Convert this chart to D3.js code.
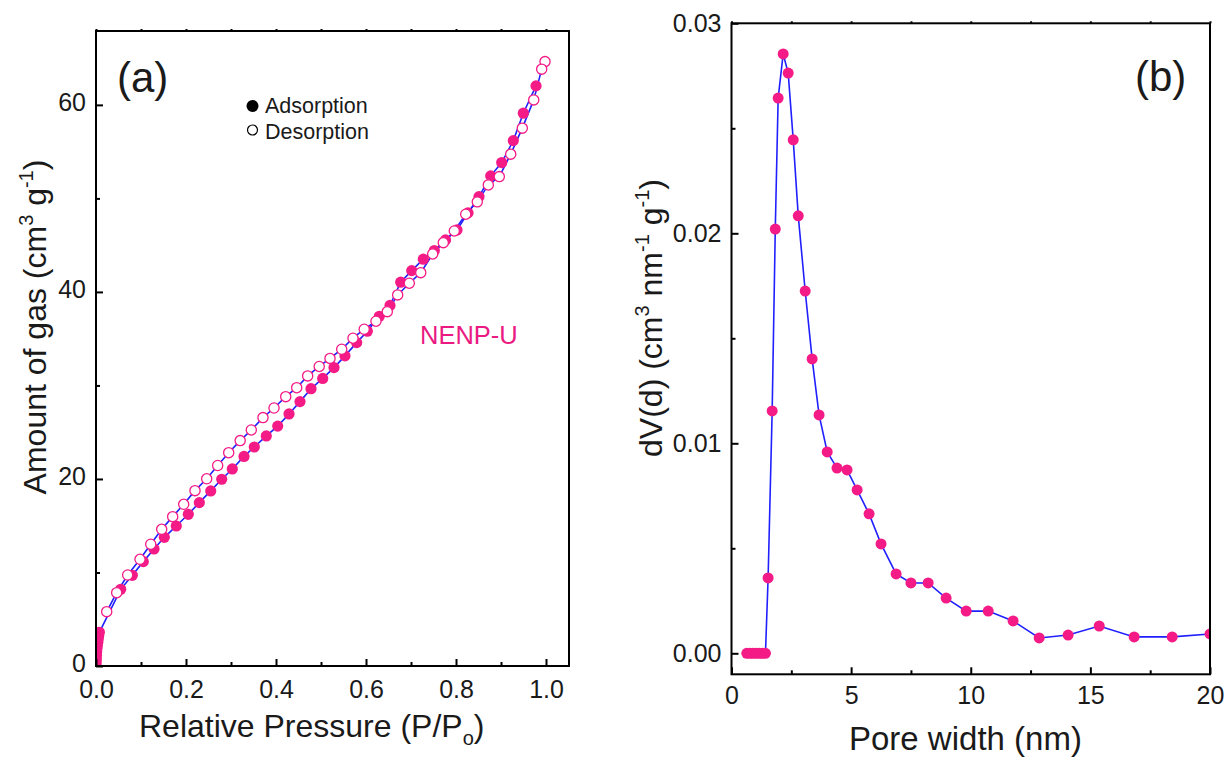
<!DOCTYPE html>
<html>
<head>
<meta charset="utf-8">
<script src="https://cdn.jsdelivr.net/npm/d3@7"></script>
<style>
  html, body { margin: 0; padding: 0; background: #fff; }
  svg { display: block; font-family: "Liberation Sans", Arial, Helvetica, sans-serif; }
</style>
</head>
<body>
<svg id="chart" width="1227" height="760"></svg>
<script>
// ---- (a) nitrogen sorption isotherm of NENP-U ----
const adsP = [0.0002, 0.0004, 0.0007, 0.001, 0.0015, 0.002, 0.003, 0.004, 0.005, 0.006, 0.0075,
  0.0549, 0.0807, 0.1051, 0.1289, 0.1518, 0.1784, 0.2051, 0.2296, 0.2549, 0.2793,
  0.3029, 0.3289, 0.3518, 0.3784, 0.4038, 0.4289, 0.4533, 0.4778, 0.5038, 0.5289,
  0.5533, 0.5793, 0.6029, 0.6296, 0.6533, 0.6771, 0.7016, 0.7273, 0.7518, 0.7767,
  0.8022, 0.8267, 0.8511, 0.8771, 0.9016, 0.9273, 0.9496, 0.9778];
const adsV = [0.1, 0.45, 0.8, 1.15, 1.5, 1.85, 2.2, 2.55, 2.9, 3.25, 3.6,
  8.20, 9.70, 11.16, 12.51, 13.76, 14.97, 16.22, 17.47, 18.72, 19.97,
  21.07, 22.41, 23.42, 24.60, 25.65, 26.95, 28.27, 29.65, 30.75, 31.91,
  33.16, 34.58, 35.80, 37.40, 38.56, 41.04, 42.28, 43.50, 44.42, 45.56,
  46.63, 48.45, 50.19, 52.41, 53.83, 56.18, 59.11, 62.03];
const desP = [0.9978, 0.9904, 0.9727, 0.9473, 0.9216, 0.8962, 0.8718, 0.8473, 0.8216, 0.7962,
  0.7718, 0.7482, 0.7216, 0.6962, 0.6704, 0.6473, 0.6222, 0.5960, 0.5711, 0.5460,
  0.5200, 0.4960, 0.4704, 0.4460, 0.4216, 0.3956, 0.3711, 0.3451, 0.3204, 0.2949,
  0.2704, 0.2460, 0.2200, 0.1949, 0.1704, 0.1460, 0.1216, 0.0978, 0.0704, 0.0460, 0.0238];
const desV = [64.63, 63.82, 60.53, 57.51, 54.73, 52.33, 51.44, 49.63, 48.31, 46.52,
  45.27, 44.06, 42.06, 40.93, 39.68, 37.89, 36.87, 36.01, 35.05, 33.87,
  32.89, 32.03, 31.02, 29.76, 28.80, 27.59, 26.56, 25.24, 24.10, 22.81,
  21.44, 20.02, 18.75, 17.29, 15.97, 14.62, 13.02, 11.41, 9.73, 7.84, 5.81];
const isoTicksX = [0, 0.2, 0.4, 0.6, 0.8, 1.0];
const isoMinorX = [0.1, 0.3, 0.5, 0.7, 0.9];
const isoTopX = [0, 0.1, 0.2, 0.3, 0.4, 0.5, 0.6, 0.7, 0.8, 0.9, 1.0];
const isoTicksY = [0, 20, 40, 60];
const isoMinorY = [10, 30, 50];

// ---- (b) pore size distribution ----
const poreWidth = [0.64, 0.77, 0.9, 1.03, 1.16, 1.29, 1.42, 1.53, 1.70, 1.83, 1.95, 2.16, 2.37, 2.58,
  2.79, 3.08, 3.37, 3.66, 4.0, 4.41, 4.83, 5.25, 5.75, 6.25, 6.88, 7.5, 8.22, 8.97,
  9.81, 10.73, 11.77, 12.86, 14.07, 15.37, 16.83, 18.42, 20.0];
const poreDV = [0, 0, 0, 0, 0, 0, 0, 0.00359, 0.01154, 0.0202, 0.02644, 0.02854, 0.02763, 0.02445,
  0.02083, 0.01725, 0.01402, 0.01135, 0.00959, 0.00882, 0.00873, 0.00778, 0.00664, 0.00521, 0.00378, 0.00335, 0.00335, 0.00263,
  0.00201, 0.00201, 0.00154, 0.00073, 0.00087, 0.0013, 0.00078, 0.00078, 0.00092];
const psdTicksX = [0, 5, 10, 15, 20];
const psdMinorX = [2.5, 7.5, 12.5, 17.5];
const psdTopX = [0, 2.5, 5, 7.5, 10, 12.5, 15, 17.5, 20];
const psdTicksY = [0, 0.01, 0.02, 0.03];
const psdMinorY = [0.005, 0.015, 0.025];

const PINK = "#f41b86";
const BLUE = "#2020ff";
const INK = "#1a1a1a";

const svg = d3.select("#chart");

// frame, inward ticks and labels for one panel
function drawFrame(g, x, y, o) {
  const [x0, x1] = x.range();
  const [y0, y1] = y.range(); // y0 bottom, y1 top

  const styleAxis = sel => {
    sel.select(".domain").remove();
    sel.selectAll(".tick line").attr("stroke", "#000").attr("stroke-width", 2);
    sel.selectAll(".tick text").attr("fill", INK).attr("font-size", 25)
      .attr("font-family", "Liberation Sans, Arial, sans-serif");
  };

  g.append("g").attr("transform", `translate(0,${y0})`)
    .call(d3.axisBottom(x).tickValues(o.xMajor).tickFormat(o.xFmt).tickSize(-7).tickPadding(o.xPad))
    .call(styleAxis);
  g.append("g").attr("transform", `translate(0,${y0})`)
    .call(d3.axisBottom(x).tickValues(o.xMinor).tickFormat("").tickSize(-4))
    .call(styleAxis);
  g.append("g").attr("transform", `translate(0,${y1})`)
    .call(d3.axisTop(x).tickValues(o.xTop).tickFormat("").tickSize(2))
    .call(styleAxis);
  g.append("g").attr("transform", `translate(${x0},0)`)
    .call(d3.axisLeft(y).tickValues(o.yMajor).tickFormat(o.yFmt).tickSize(-7).tickPadding(10))
    .call(styleAxis)
    .call(sel => sel.selectAll(".tick text").attr("dy", o.yDy));
  g.append("g").attr("transform", `translate(${x0},0)`)
    .call(d3.axisLeft(y).tickValues(o.yMinor).tickFormat("").tickSize(-4))
    .call(styleAxis);

  g.append("rect")
    .attr("x", x0).attr("y", y1)
    .attr("width", x1 - x0).attr("height", y0 - y1)
    .attr("fill", "none").attr("stroke", "#000").attr("stroke-width", 2);
}

function clipFor(id, x, y) {
  const [x0, x1] = x.range();
  const [y0, y1] = y.range();
  svg.append("defs").append("clipPath").attr("id", id)
    .append("rect").attr("x", x0).attr("y", y1).attr("width", x1 - x0).attr("height", y0 - y1);
}

// ================= panel (a) =================
const xa = d3.scaleLinear().domain([0, 1.0511]).range([96, 569]);
const ya = d3.scaleLinear().domain([0, 67.9]).range([666, 31]);
clipFor("clipA", xa, ya);

const ga = svg.append("g");
const adsData = adsP.map((p, i) => ({ p, v: adsV[i] }));
const desData = desP.map((p, i) => ({ p, v: desV[i] }));
const lineA = d3.line().x(d => xa(d.p)).y(d => ya(d.v));

const plotA = ga.append("g").attr("clip-path", "url(#clipA)");
plotA.append("path").datum(adsData).attr("d", lineA)
  .attr("fill", "none").attr("stroke", BLUE).attr("stroke-width", 1.6);
plotA.append("path").datum(desData).attr("d", lineA)
  .attr("fill", "none").attr("stroke", BLUE).attr("stroke-width", 1.6);
plotA.selectAll("circle.ads").data(adsData).join("circle").attr("class", "ads")
  .attr("cx", d => xa(d.p)).attr("cy", d => ya(d.v)).attr("r", 5.6)
  .attr("fill", PINK);
plotA.selectAll("circle.des").data(desData).join("circle").attr("class", "des")
  .attr("cx", d => xa(d.p)).attr("cy", d => ya(d.v)).attr("r", 5.1)
  .attr("fill", "#fff").attr("stroke", PINK).attr("stroke-width", 1.3);

drawFrame(ga, xa, ya, {
  xMajor: isoTicksX, xMinor: isoMinorX, xTop: isoTopX, xFmt: d3.format(".1f"), xPad: 14,
  yMajor: isoTicksY, yMinor: isoMinorY, yFmt: d3.format("d"), yDy: "0.22em"
});

ga.append("text").attr("x", 117).attr("y", 92).attr("font-size", 42).attr("fill", INK).text("(a)");

// legend
const legA = ga.append("g");
legA.append("circle").attr("cx", 252.5).attr("cy", 106).attr("r", 6).attr("fill", "#000");
legA.append("text").attr("x", 265).attr("y", 112.5).attr("font-size", 21.5).attr("fill", INK).text("Adsorption");
legA.append("circle").attr("cx", 252.5).attr("cy", 130).attr("r", 5).attr("fill", "#fff")
  .attr("stroke", "#000").attr("stroke-width", 1.2);
legA.append("text").attr("x", 265).attr("y", 139).attr("font-size", 21.5).attr("fill", INK).text("Desorption");

ga.append("text").attr("x", 420).attr("y", 344).attr("font-size", 25.5).attr("fill", "#ea1a82").text("NENP-U");

// axis titles (a)
const xtA = ga.append("text").attr("x", 139).attr("y", 737).attr("font-size", 32).attr("fill", INK);
xtA.append("tspan").text("Relative Pressure (P/P");
xtA.append("tspan").attr("font-size", 20).attr("dy", 8).text("o");
xtA.append("tspan").attr("dy", -8).text(")");

const ytA = ga.append("text").attr("transform", "translate(46,327) rotate(-90)")
  .attr("text-anchor", "middle").attr("font-size", 32).attr("fill", INK);
ytA.append("tspan").text("Amount of gas (cm");
ytA.append("tspan").attr("font-size", 20).attr("dy", -13).text("3");
ytA.append("tspan").attr("dy", 13).text(" g");
ytA.append("tspan").attr("font-size", 20).attr("dy", -13).text("-1");
ytA.append("tspan").attr("dy", 13).text(")");

// ================= panel (b) =================
const xb = d3.scaleLinear().domain([0, 20]).range([731.5, 1210]);
const yb = d3.scaleLinear().domain([-0.001, 0.03]).range([674.3, 23.3]);
clipFor("clipB", xb, yb);

const gb = svg.append("g");
const psdData = poreWidth.map((w, i) => ({ w, v: poreDV[i] }));
const lineB = d3.line().x(d => xb(d.w)).y(d => yb(d.v));
const plotB = gb.append("g").attr("clip-path", "url(#clipB)");
plotB.append("path").datum(psdData).attr("d", lineB)
  .attr("fill", "none").attr("stroke", BLUE).attr("stroke-width", 1.6);
plotB.selectAll("circle").data(psdData).join("circle")
  .attr("cx", d => xb(d.w)).attr("cy", d => yb(d.v)).attr("r", 5.5)
  .attr("fill", PINK);

drawFrame(gb, xb, yb, {
  xMajor: psdTicksX, xMinor: psdMinorX, xTop: psdTopX, xFmt: d3.format("d"), xPad: 12,
  yMajor: psdTicksY, yMinor: psdMinorY, yFmt: d3.format(".2f"), yDy: "0.32em"
});

gb.append("text").attr("x", 1135).attr("y", 91).attr("font-size", 42).attr("fill", INK).text("(b)");

gb.append("text").attr("x", 849).attr("y", 750).attr("font-size", 33).attr("fill", INK).text("Pore width (nm)");

const ytB = gb.append("text").attr("transform", "translate(662,318) rotate(-90)")
  .attr("text-anchor", "middle").attr("font-size", 32).attr("fill", INK);
ytB.append("tspan").text("dV(d) (cm");
ytB.append("tspan").attr("font-size", 20).attr("dy", -13).text("3");
ytB.append("tspan").attr("dy", 13).text(" nm");
ytB.append("tspan").attr("font-size", 20).attr("dy", -13).text("-1");
ytB.append("tspan").attr("dy", 13).text(" g");
ytB.append("tspan").attr("font-size", 20).attr("dy", -13).text("-1");
ytB.append("tspan").attr("dy", 13).text(")");
</script>
</body>
</html>
